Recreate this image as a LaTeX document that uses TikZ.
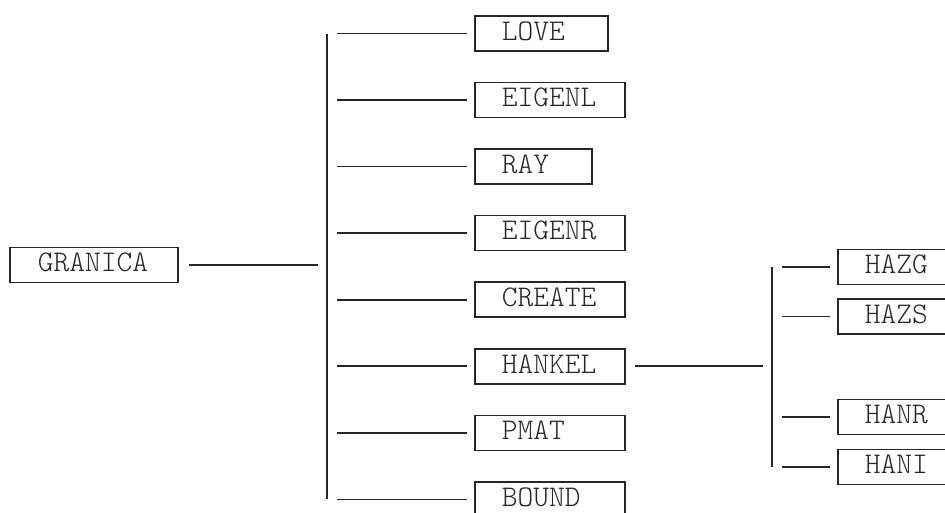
\documentclass[tikz,border=0pt]{standalone}
\usetikzlibrary{positioning}
\tikzset{
    box/.style={draw, anchor=west, text width=#1, align=left, inner xsep=27pt, inner ysep=0pt,
        text depth=5pt, minimum height=35pt},
    box/.default=96pt,
    link/.style={shorten <=10pt, shorten >=7pt}
}
\begin{document}
\begin{tikzpicture}[x=1pt, y=-1pt, line width=1.6pt, color=black!85,
    every node/.style={font=\fontsize{30}{36}\ttfamily\fontseries{l}\selectfont}]
    \path[use as bounding box] (0,0) rectangle (945,512);
    \clip (0,0) rectangle (945,512);
    \coordinate (bar1) at (327,0);
    \coordinate (bar2) at (772,0);
    \node[box=112pt, inner xsep=28pt] (granica) at (9,265) {GRANICA};
    \foreach \nm/\lbl/\w [count=\i from 0] in {love/LOVE/79, eigenl/EIGENL/96, ray/RAY/63, eigenr/EIGENR/96,
        create/CREATE/96, hankel/HANKEL/96, pmat/PMAT/96, bound/BOUND/96}{
        \pgfmathsetmacro{\yy}{33.5+66.55*\i}
        \node[box=\w pt] (\nm) at (474,\yy) {\lbl};
        \draw[link] (bar1 |- \nm.west) -- (\nm.west);
    }
    \foreach \nm/\lbl/\yy in {hazg/HAZG/267, hazs/HAZS/316.5, hanr/HANR/417, hani/HANI/467}{
        \node[box] (\nm) at (837,\yy) {\lbl};
        \draw[link] (bar2 |- \nm.west) -- (\nm.west);
    }
    \draw (bar1 |- love.west) -- (bar1 |- bound.west);
    \draw (bar2 |- hazg.west) -- (bar2 |- hani.west);
    \draw[shorten <=10pt, shorten >=9pt] (granica.east) -- (bar1 |- granica.east);
    \draw[shorten <=9pt, shorten >=9pt] (hankel.east) -- (bar2 |- hankel.east);
\end{tikzpicture}
\end{document}
